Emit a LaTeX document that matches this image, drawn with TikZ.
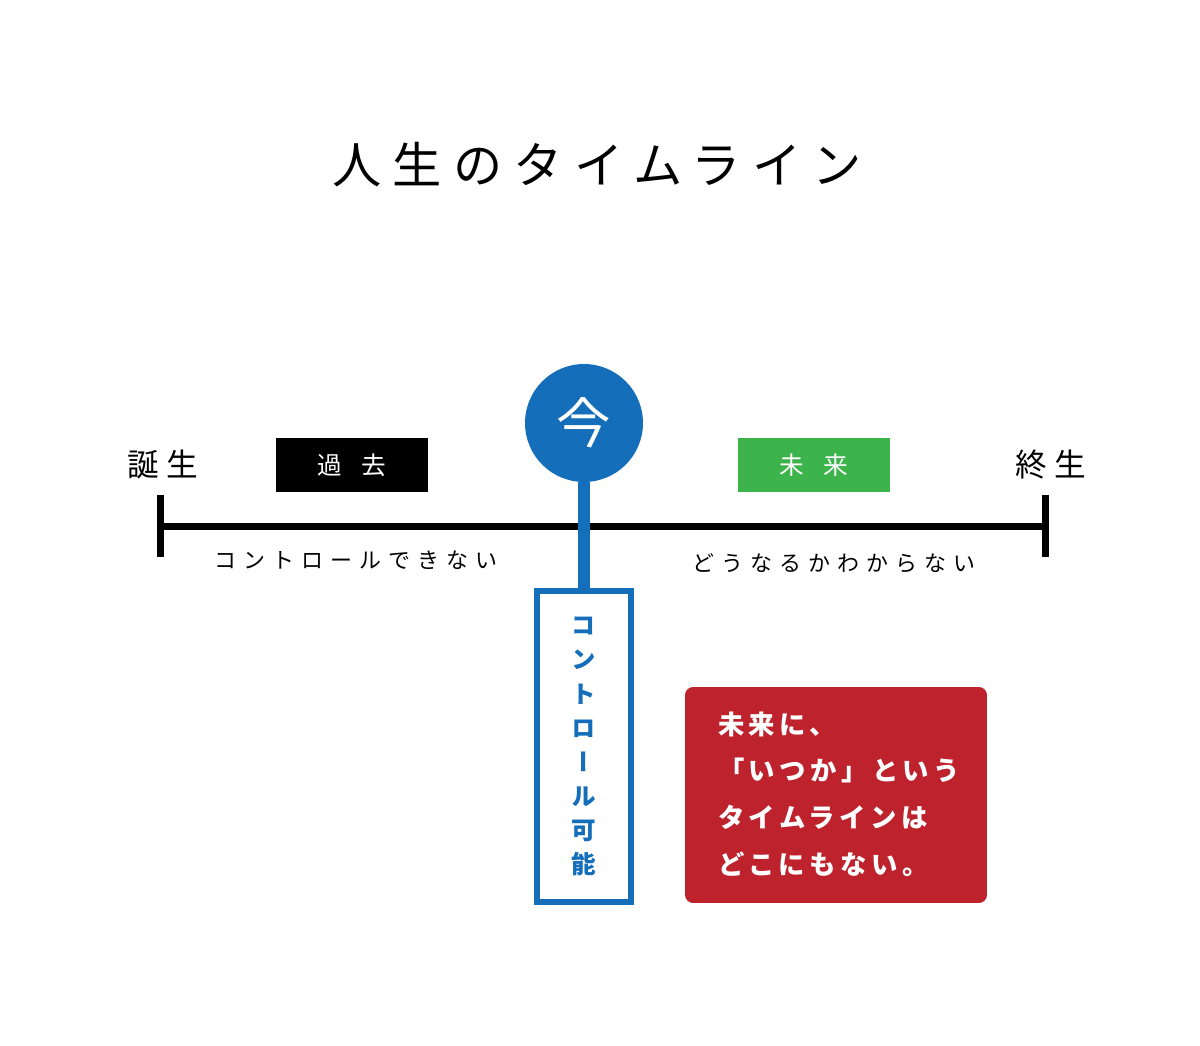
\documentclass[tikz,border=0pt]{standalone}
\usepackage{fontspec}
\setmainfont{Noto Sans CJK JP}
\usepackage{xcolor}
\usepackage{tikz}
\usetikzlibrary{positioning}

\definecolor{nowblue}{RGB}{20,110,185}
\definecolor{futgreen}{RGB}{60,180,75}
\definecolor{notered}{RGB}{190,35,45}

\begin{document}
\begin{tikzpicture}[
		x=0.02cm, y=-0.02cm,
		every node/.style={inner sep=0pt, outer sep=0pt},
		spaced/.style={font=\fontsize{#1}{#1}\selectfont\addfontfeature{LetterSpace=25}},
		era/.style={rectangle, minimum width=3.04cm, minimum height=1.08cm, text=white, font=\fontsize{14}{14}\selectfont\addfontfeature{LetterSpace=80}},
		axis/.style={line width=0.14cm},
		stem/.style={line width=0.24cm, draw=nowblue}
		]
		\useasboundingbox (0,0) rectangle (1200,1045);
		
		% Title
		\node[font=\fontsize{28}{28}\selectfont\addfontfeature{LetterSpace=23}] (title) at (597,165) {人生のタイムライン};
		
		% Timeline
		\coordinate (tl) at (160,526);
		\coordinate (tr) at (1045,526);
		\draw[axis] (tl) -- (tr);
		\draw[axis] (tl) ++(0,-31) -- ++(0,62);
		\draw[axis] (tr) ++(0,-31) -- ++(0,62);
		\node[spaced=18] (birth) at (163,465) {誕生};
		\node[spaced=18] (death) at (1051,465) {終生};
		\node[era, fill=black] (past) at (352,465) {過去};
		\node[era, fill=futgreen] (future) at (814,465) {未来};
		\node[font=\fontsize{12.5}{12.5}\selectfont\addfontfeature{LetterSpace=32}] (nocontrol) at (356,560) {コントロールできない};
		\node[font=\fontsize{12.5}{12.5}\selectfont\addfontfeature{LetterSpace=32}] (unknown) at (834,563) {どうなるかわからない};
		
		% Now
		\node[circle, fill=nowblue, minimum size=2.36cm, text=white, font=\fontsize{31}{31}\selectfont] (now) at (584,423) {今};
		\node[rectangle, draw=nowblue, line width=0.12cm, fill=white, minimum width=1.88cm, minimum height=6.22cm] (ctrl) at (584,746.5) {};
		\node[text=nowblue, align=center, font=\fontsize{14}{19.4}\selectfont\bfseries\addfontfeature{RawFeature=+vert}] (ctrltext) at (ctrl) {コ\\ン\\ト\\ロ\\ー\\ル\\可\\能};
		\draw[stem] (now.south) -- (ctrl.north);
		
		% Note
		\node[rectangle, rounded corners=0.16cm, fill=notered, minimum width=6.04cm, minimum height=4.32cm] (note) at (836,795) {};
		\node[anchor=west, text=white, align=left, font=\fontsize{15}{26.6}\selectfont\bfseries\addfontfeature{LetterSpace=17}] (notetext) at (718,794) {未来に、\\「いつか」という\\タイムラインは\\どこにもない。};
		
	\end{tikzpicture}
\end{document}
